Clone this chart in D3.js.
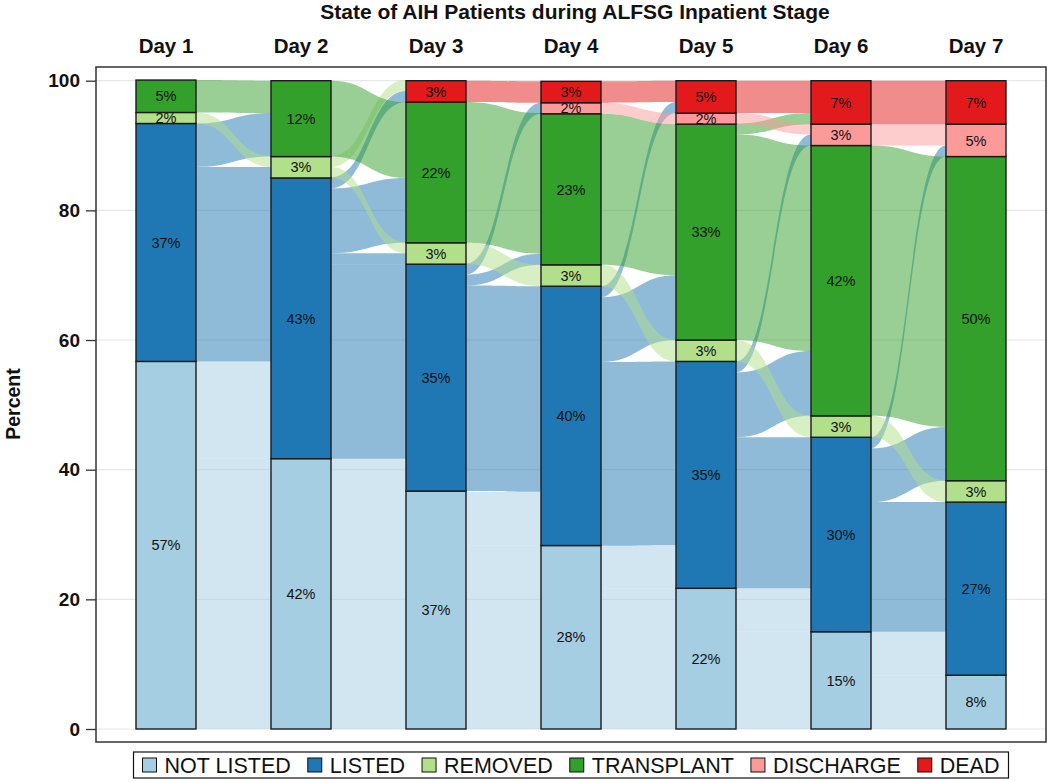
<!DOCTYPE html>
<html>
<head>
<meta charset="utf-8">
<script src="https://cdn.jsdelivr.net/npm/d3@7"></script>
<style>
  html, body { margin: 0; padding: 0; background: #fff; }
  svg { display: block; font-family: "Liberation Sans", Arial, Helvetica, sans-serif; }
</style>
</head>
<body>
<svg id="chart" width="1050" height="782"></svg>
<script>
// ---------------- DATA ----------------
const title = "State of AIH Patients during ALFSG Inpatient Stage";
const days = ["Day 1", "Day 2", "Day 3", "Day 4", "Day 5", "Day 6", "Day 7"];
const states = ["NOT LISTED", "LISTED", "REMOVED", "TRANSPLANT", "DISCHARGE", "DEAD"];
const yTicks = [0, 20, 40, 60, 80, 100];
const yLabel = "Percent";

// percent of patients in each state, per day
const notListed  = [56.7, 41.7, 36.7, 28.3, 21.7, 15.0, 8.3];
const listed     = [36.7, 43.3, 35.0, 40.0, 35.0, 30.0, 26.7];
const removed    = [1.7, 3.3, 3.3, 3.3, 3.3, 3.3, 3.3];
const transplant = [5.0, 11.7, 21.7, 23.3, 33.3, 41.7, 50.0];
const discharge  = [0, 0, 0, 1.7, 1.7, 3.3, 5.0];
const dead       = [0, 0, 3.3, 3.3, 5.0, 6.7, 6.7];

// flows between consecutive days: [from state, to state, percent]
const flowDay1to2 = [["NOT LISTED","NOT LISTED",41.7],["NOT LISTED","LISTED",15.0],["LISTED","LISTED",28.3],["LISTED","REMOVED",1.7],["LISTED","TRANSPLANT",6.7],["REMOVED","REMOVED",1.7],["TRANSPLANT","TRANSPLANT",5.0]];
const flowDay2to3 = [["NOT LISTED","NOT LISTED",36.7],["NOT LISTED","LISTED",5.0],["LISTED","LISTED",30.0],["LISTED","REMOVED",1.7],["LISTED","TRANSPLANT",10.0],["LISTED","DEAD",1.7],["REMOVED","REMOVED",1.7],["REMOVED","DEAD",1.7],["TRANSPLANT","TRANSPLANT",11.7]];
const flowDay3to4 = [["NOT LISTED","NOT LISTED",28.3],["NOT LISTED","LISTED",8.3],["LISTED","LISTED",31.7],["LISTED","TRANSPLANT",1.7],["LISTED","DISCHARGE",1.7],["REMOVED","REMOVED",3.3],["TRANSPLANT","TRANSPLANT",21.7],["DEAD","DEAD",3.3]];
const flowDay4to5 = [["NOT LISTED","NOT LISTED",21.7],["NOT LISTED","LISTED",6.7],["LISTED","LISTED",28.3],["LISTED","TRANSPLANT",10.0],["LISTED","DEAD",1.7],["REMOVED","REMOVED",3.3],["TRANSPLANT","TRANSPLANT",23.3],["DISCHARGE","DISCHARGE",1.7],["DEAD","DEAD",3.3]];
const flowDay5to6 = [["NOT LISTED","NOT LISTED",15.0],["NOT LISTED","LISTED",6.7],["LISTED","LISTED",23.3],["LISTED","TRANSPLANT",10.0],["LISTED","DISCHARGE",1.7],["REMOVED","REMOVED",3.3],["TRANSPLANT","TRANSPLANT",31.7],["TRANSPLANT","DEAD",1.7],["DISCHARGE","DISCHARGE",1.7],["DEAD","DEAD",5.0]];
const flowDay6to7 = [["NOT LISTED","NOT LISTED",8.3],["NOT LISTED","LISTED",6.7],["LISTED","LISTED",20.0],["LISTED","TRANSPLANT",8.3],["LISTED","DISCHARGE",1.7],["REMOVED","REMOVED",3.3],["TRANSPLANT","TRANSPLANT",41.7],["DISCHARGE","DISCHARGE",3.3],["DEAD","DEAD",6.7]];

// ---------------- STYLE ----------------
const colors = ["#a6cee3", "#1f78b4", "#b2df8a", "#33a02c", "#fb9a99", "#e31a1c"];
const FONT = '"Liberation Sans", Arial, Helvetica, sans-serif';

// ---------------- BUILD ----------------
const series = [notListed, listed, removed, transplant, discharge, dead];
const transitions = [flowDay1to2, flowDay2to3, flowDay3to4, flowDay4to5, flowDay5to6, flowDay6to7];

const svg = d3.select("#chart");
const frame = {left: 96, top: 67, right: 1046, bottom: 742};
const barW = 60;

const x = d3.scalePoint().domain(days).range([166, 976]);
const y = d3.scaleLinear().domain([0, 100]).range([729, 80.7]);
const color = d3.scaleOrdinal().domain(states).range(colors);

// nodes (stacked)
const nodes = [];
days.forEach((d, di) => {
  let cum = 0;
  states.forEach((s, si) => {
    const v = series[si][di];
    nodes.push({day: d, di, state: s, si, v, y0: cum, y1: cum + v});
    cum += v;
  });
});
const nodeOf = (di, s) => nodes.find(n => n.di === di && n.state === s);

// links
const links = [];
transitions.forEach((fl, ti) => {
  const ls = fl.map(([a, b, v]) => ({ti, src: a, tgt: b, v, sIdx: states.indexOf(a), tIdx: states.indexOf(b)}));
  states.forEach(s => {
    const n = nodeOf(ti, s);
    let c = n.y0;
    ls.filter(l => l.src === s).sort((p, q) => p.tIdx - q.tIdx).forEach(l => { l.sy0 = c; l.sy1 = c + l.v; c += l.v; });
  });
  states.forEach(s => {
    const n = nodeOf(ti + 1, s);
    let c = n.y0;
    ls.filter(l => l.tgt === s).sort((p, q) => p.sIdx - q.sIdx).forEach(l => { l.ty0 = c; l.ty1 = c + l.v; c += l.v; });
  });
  links.push(...ls);
});

// grid
svg.append("g").selectAll("line").data(yTicks).join("line")
  .attr("x1", frame.left).attr("x2", frame.right)
  .attr("y1", d => y(d)).attr("y2", d => y(d))
  .attr("stroke", "#e8e8e8").attr("stroke-width", 1.2);

// flows
function linkPath(l) {
  const x0 = x(days[l.ti]) + barW / 2;
  const x1 = x(days[l.ti + 1]) - barW / 2;
  const xm = (x0 + x1) / 2;
  const st = y(l.sy1), sb = y(l.sy0), tt = y(l.ty1), tb = y(l.ty0);
  return `M${x0},${st}C${xm},${st} ${xm},${tt} ${x1},${tt}L${x1},${tb}C${xm},${tb} ${xm},${sb} ${x0},${sb}Z`;
}
svg.append("g").selectAll("path").data(links).join("path")
  .attr("d", linkPath)
  .attr("fill", d => color(d.src))
  .attr("fill-opacity", 0.5)
  .attr("stroke", "none");

// bars
const barNodes = nodes.filter(n => n.v > 0);
svg.append("g").selectAll("rect").data(barNodes).join("rect")
  .attr("x", d => x(d.day) - barW / 2)
  .attr("width", barW)
  .attr("y", d => y(d.y1))
  .attr("height", d => y(d.y0) - y(d.y1))
  .attr("fill", d => color(d.state))
  .attr("stroke", "#1a1a1a").attr("stroke-width", 1.4);

// bar labels
svg.append("g").selectAll("text").data(barNodes).join("text")
  .attr("x", d => x(d.day))
  .attr("y", d => (y(d.y0) + y(d.y1)) / 2)
  .attr("dy", "0.36em")
  .attr("text-anchor", "middle")
  .attr("font-size", 14.5).attr("fill", "#111")
  .text(d => Math.round(d.v) + "%");

// frame
svg.append("rect")
  .attr("x", frame.left).attr("y", frame.top)
  .attr("width", frame.right - frame.left).attr("height", frame.bottom - frame.top)
  .attr("fill", "none").attr("stroke", "#333").attr("stroke-width", 1.5);

// y axis
const yAxis = svg.append("g").attr("transform", `translate(${frame.left},0)`)
  .call(d3.axisLeft(y).tickValues(yTicks).tickSize(10).tickPadding(6));
yAxis.select(".domain").remove();
yAxis.selectAll(".tick line").attr("stroke", "#333").attr("stroke-width", 1.3);
yAxis.selectAll(".tick text").attr("font-family", FONT).attr("font-size", 19)
  .attr("font-weight", "bold").attr("fill", "#111");

svg.append("text")
  .attr("transform", `translate(20,404) rotate(-90)`)
  .attr("text-anchor", "middle")
  .attr("font-size", 19.5).attr("font-weight", "bold").attr("fill", "#111")
  .text(yLabel);

// day labels
svg.append("g").selectAll("text").data(days).join("text")
  .attr("x", d => x(d)).attr("y", 53)
  .attr("text-anchor", "middle")
  .attr("font-size", 20.5).attr("font-weight", "bold").attr("fill", "#111")
  .text(d => d);

// title
svg.append("text")
  .attr("x", 575).attr("y", 19)
  .attr("text-anchor", "middle")
  .attr("font-size", 21).attr("font-weight", "bold").attr("fill", "#111")
  .text(title);

// legend
const lg = svg.append("g");
const sq = 14, gapST = 8, gapItem = 17, pad = 9;
let cx = 0;
const items = [];
states.forEach(s => {
  const g = lg.append("g");
  g.append("rect").attr("x", 0).attr("y", -sq / 2).attr("width", sq).attr("height", sq)
    .attr("fill", color(s)).attr("stroke", "#111").attr("stroke-width", 1);
  const t = g.append("text").attr("x", sq + gapST).attr("y", 0).attr("dy", "0.36em")
    .attr("font-size", 21.5).attr("fill", "#111").text(s);
  const w = sq + gapST + t.node().getComputedTextLength();
  items.push({g, w});
});
const totalW = d3.sum(items, d => d.w) + gapItem * (items.length - 1);
const lx0 = (frame.left + frame.right) / 2 - totalW / 2;
const legendCY = 765;
items.forEach(it => { it.g.attr("transform", `translate(${lx0 + cx},${legendCY})`); cx += it.w + gapItem; });
lg.insert("rect", ":first-child")
  .attr("x", lx0 - pad).attr("y", 752)
  .attr("width", totalW + 2 * pad).attr("height", 26)
  .attr("fill", "#fff").attr("stroke", "#111").attr("stroke-width", 1.2);
</script>
</body>
</html>
